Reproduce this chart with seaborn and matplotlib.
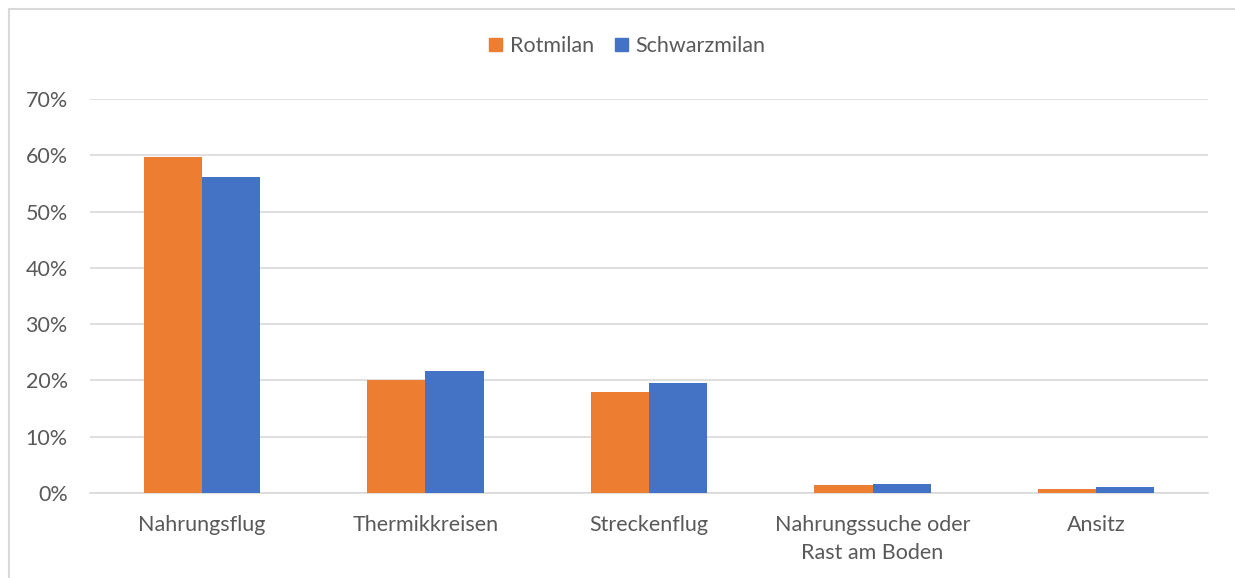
import matplotlib
matplotlib.use("Agg")
import matplotlib.pyplot as plt
from matplotlib.patches import Rectangle
from matplotlib.ticker import FuncFormatter, MultipleLocator
import seaborn as sns
import pandas as pd

# Flight behaviour shares per species
categories = ["Nahrungsflug", "Thermikkreisen", "Streckenflug",
              "Nahrungssuche oder\nRast am Boden", "Ansitz"]
rotmilan = [59.7, 20.1, 17.9, 1.4, 0.7]
schwarzmilan = [56.1, 21.7, 19.5, 1.6, 1.0]
series = ["Rotmilan", "Schwarzmilan"]
colors = ["#ED7D31", "#4472C4"]

df = pd.DataFrame({
    "Kategorie": categories * 2,
    "Art": [series[0]] * len(categories) + [series[1]] * len(categories),
    "Anteil": rotmilan + schwarzmilan,
})

sns.set_theme(style="white")
plt.rcParams["font.family"] = ["Lato", "DejaVu Sans"]
text_color = "#595959"
grid_color = "#D9D9D9"
fs = 15.5

fig = plt.figure(figsize=(12.35, 5.78), dpi=100)
ax = fig.add_axes([90 / 1235, 1 - 493 / 578, (1208 - 90) / 1235, (493 - 99) / 578])

sns.barplot(data=df, x="Kategorie", y="Anteil", hue="Art", palette=colors,
            width=0.52, gap=0, saturation=1, linewidth=0, ax=ax, legend=False)

ax.set_ylim(0, 70)
ax.set_xlim(-0.5, len(categories) - 0.5)
ax.yaxis.set_major_locator(MultipleLocator(10))
ax.yaxis.set_major_formatter(FuncFormatter(lambda v, _: f"{v:.0f}%"))
ax.grid(axis="y", color=grid_color, linewidth=1.2)
ax.set_axisbelow(True)
for side in ["top", "right", "left"]:
    ax.spines[side].set_visible(False)
ax.spines["bottom"].set_color(grid_color)
ax.spines["bottom"].set_linewidth(1.2)
ax.spines["bottom"].set_zorder(0.5)
ax.set_xlabel("")
ax.set_ylabel("")
ax.tick_params(axis="both", length=0, labelsize=fs, colors=text_color)
ax.tick_params(axis="y", pad=16)
ax.tick_params(axis="x", pad=16)
for lbl in ax.get_xticklabels():
    lbl.set_linespacing(1.5)

# Legend centered above the plot
handles = [Rectangle((0, 0), 1, 1, color=c) for c in colors]
fig.legend(handles, series, loc="center", bbox_to_anchor=(0.508, 1 - 46 / 578),
           ncol=2, frameon=False, fontsize=fs, handlelength=0.6, handleheight=0.6,
           handletextpad=0.35, columnspacing=1.0, labelcolor=text_color)

# Light chart frame
frame_color = "#D9D9D9"
fig.add_artist(plt.Line2D([8.5 / 1235, 8.5 / 1235], [0, 1 - 8.5 / 578],
                          transform=fig.transFigure, color=frame_color, linewidth=1.5))
fig.add_artist(plt.Line2D([8.5 / 1235, 1], [1 - 8.5 / 578, 1 - 8.5 / 578],
                          transform=fig.transFigure, color=frame_color, linewidth=1.5))

fig.savefig("out.png", dpi=100)
